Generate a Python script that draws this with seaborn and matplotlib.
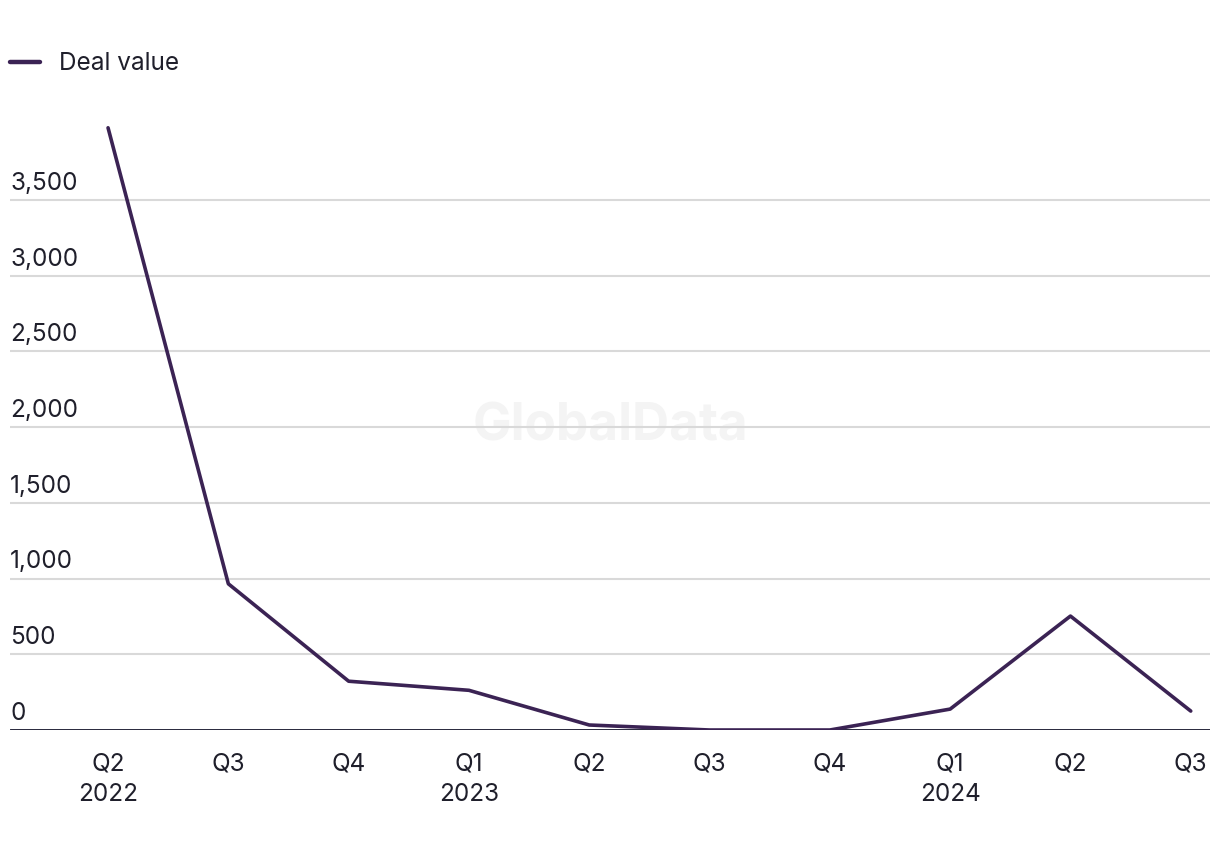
import matplotlib
matplotlib.use("Agg")
import matplotlib.pyplot as plt
import matplotlib.transforms as mtransforms
import seaborn as sns
import pandas as pd
import numpy as np

# quarterly deal values
quarters = ["Q2\n2022", "Q3", "Q4", "Q1\n2023", "Q2", "Q3", "Q4", "Q1\n2024", "Q2", "Q3"]
deal_value = [3975, 965, 322, 262, 33, 0, 0, 138, 752, 125]
y_ticks = [0, 500, 1000, 1500, 2000, 2500, 3000, 3500]

LINE_COLOR = "#3b2354"
GRID_COLOR = "#d9d9d9"
TEXT_COLOR = "#1f1f2b"

sns.set_theme(style="white")
plt.rcParams["font.family"] = ["Inter", "DejaVu Sans"]

df = pd.DataFrame({"pos": np.arange(len(quarters)), "value": deal_value})

fig = plt.figure(figsize=(12.2, 8.5), dpi=100)
ax = fig.add_axes([10 / 1220, 1 - 730 / 850, 1200 / 1220, (730 - 124) / 850])

# watermark
ax.text(0.5, (730 - 427) / (730 - 124), "GlobalData", transform=ax.transAxes,
        ha="center", va="center", fontsize=37, fontweight="bold",
        color="#f4f4f4", zorder=0)

for t in y_ticks[1:]:
    ax.axhline(t, color=GRID_COLOR, linewidth=1.5, zorder=1)
ax.axhline(0, color="#14142a", linewidth=2.0, zorder=2)

sns.lineplot(data=df, x="pos", y="value", ax=ax, color=LINE_COLOR,
             linewidth=2.6, label="Deal value", zorder=3)

ax.set_xlim(-0.815, 9.16)
ax.set_ylim(0, 4000)
ax.set_xticks(df["pos"])
ax.set_xticklabels(quarters, fontsize=17.5, color=TEXT_COLOR, linespacing=1.45)
ax.set_yticks(y_ticks)
ax.set_yticklabels([f"{v:,}" for v in y_ticks], fontsize=17.5, color=TEXT_COLOR)
ax.tick_params(axis="both", length=0)
ax.tick_params(axis="x", pad=16)
ax.tick_params(axis="y", pad=0)
ax.set_xlabel("")
ax.set_ylabel("")
for s in ax.spines.values():
    s.set_visible(False)

offset = mtransforms.ScaledTranslation(0, 5 / 100, fig.dpi_scale_trans)
for lab in ax.get_yticklabels():
    lab.set_horizontalalignment("left")
    lab.set_verticalalignment("bottom")
    lab.set_transform(lab.get_transform() + offset)
    lab.set_x(0)

leg = ax.legend(loc="center left", bbox_to_anchor=(0, (730 - 64) / (730 - 124)),
                bbox_transform=ax.transAxes, frameon=False, fontsize=17.5,
                handlelength=1.25, handletextpad=0.75, borderaxespad=0,
                borderpad=0)
for t in leg.get_texts():
    t.set_color(TEXT_COLOR)
for h in leg.get_lines():
    h.set_linewidth(3.2)

fig.savefig("out.png", dpi=100, facecolor="white")
